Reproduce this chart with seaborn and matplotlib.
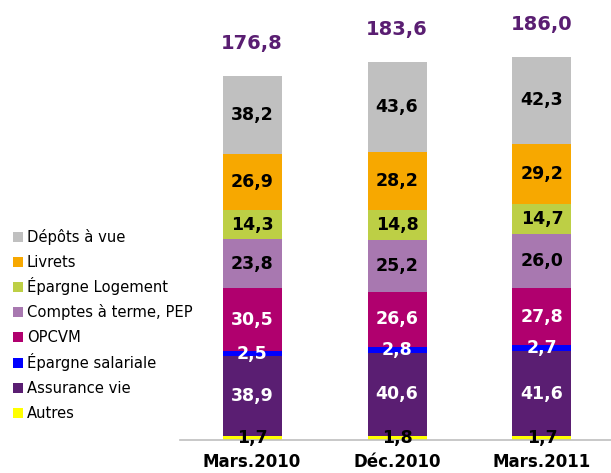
import matplotlib
matplotlib.use("Agg")
import matplotlib.pyplot as plt
import seaborn as sns
import pandas as pd
import numpy as np
from matplotlib.patches import Rectangle

categories = ["Mars.2010", "Déc.2010", "Mars.2011"]
# stack order bottom -> top
series_names = ["Autres", "Assurance vie", "Épargne salariale", "OPCVM",
                "Comptes à terme, PEP", "Épargne Logement", "Livrets", "Dépôts à vue"]
autres = [1.7, 1.8, 1.7]
assurance_vie = [38.9, 40.6, 41.6]
epargne_salariale = [2.5, 2.8, 2.7]
opcvm = [30.5, 26.6, 27.8]
comptes_terme = [23.8, 25.2, 26.0]
epargne_logement = [14.3, 14.8, 14.7]
livrets = [26.9, 28.2, 29.2]
depots_vue = [38.2, 43.6, 42.3]
totals = [176.8, 183.6, 186.0]

series_values = [autres, assurance_vie, epargne_salariale, opcvm,
                 comptes_terme, epargne_logement, livrets, depots_vue]
colors = ["#FFFF00", "#5A1E72", "#0000FF", "#B0006E",
          "#A878B0", "#BDCF45", "#F7A800", "#C0C0C0"]
label_colors = ["black", "white", "white", "white",
                "black", "black", "black", "black"]

sns.set_theme(style="white")
plt.rcParams["font.family"] = ["DejaVu Sans"]
plt.rcParams["text.color"] = "black"
plt.rcParams["xtick.color"] = "black"

W, H = 611, 473
fig = plt.figure(figsize=(W / 100, H / 100), dpi=100)
ax = fig.add_axes([180/W, 33/H, 431/W, 440/H])

vals = np.array(series_values)
cum = np.cumsum(vals, axis=0)
bottoms = cum - vals

# draw from top of stack down so lower segments overlay
for i in range(len(series_names) - 1, -1, -1):
    df = pd.DataFrame({"cat": categories, "top": cum[i]})
    sns.barplot(data=df, x="cat", y="top", color=colors[i], width=0.407,
                saturation=1, ax=ax, errorbar=None, linewidth=0)

def fmt(v):
    return f"{v:.1f}".replace(".", ",")

for i in range(len(series_names)):
    for j in range(len(categories)):
        y = bottoms[i][j] + vals[i][j] / 2
        ax.text(j, y, fmt(vals[i][j]), ha="center", va="center",
                fontsize=12.5, fontweight="bold", color=label_colors[i])

for j, t in enumerate(totals):
    ax.text(j, cum[-1][j] + 15.5, fmt(t), ha="center", va="center",
            fontsize=14, fontweight="bold", color="#5A1E72")

ax.set_xlim(-0.497, 2.476)
ax.set_ylim(0, 213.6)
ax.set_xlabel("")
ax.set_ylabel("")
ax.set_yticks([])
for s in ["top", "right", "left"]:
    ax.spines[s].set_visible(False)
ax.spines["bottom"].set_color("#BFBFBF")
ax.spines["bottom"].set_linewidth(1.2)
ax.tick_params(axis="x", length=0, pad=9)
for lbl in ax.get_xticklabels():
    lbl.set_fontweight("bold")
    lbl.set_fontsize(12)
    lbl.set_color("black")

# legend, top entry first, evenly spaced
legend_order = list(range(len(series_names) - 1, -1, -1))
for k, i in enumerate(legend_order):
    yc = 237 + 25.1 * k
    fig.patches.append(Rectangle((13 / W, 1 - (yc + 5) / H), 10 / W, 10 / H,
                                 transform=fig.transFigure, facecolor=colors[i],
                                 edgecolor="none"))
    fig.text(27 / W, 1 - (yc + 5) / H, series_names[i], fontsize=10.6,
             ha="left", va="baseline", color="black")

fig.savefig("out.png", dpi=100)
